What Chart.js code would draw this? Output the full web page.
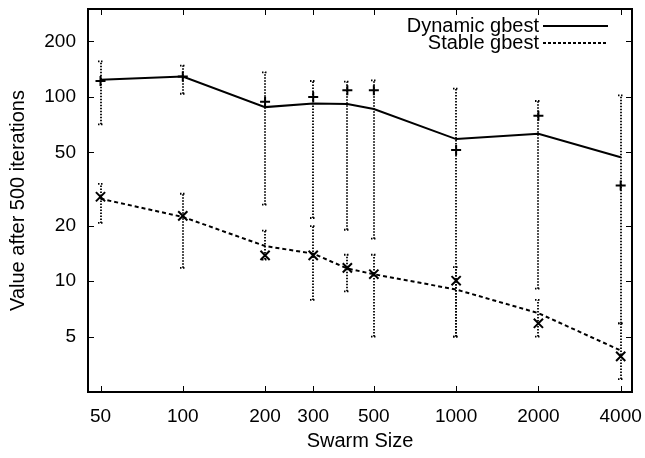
<!DOCTYPE html>
<html>
<head>
<meta charset="utf-8">
<script src="https://cdn.jsdelivr.net/npm/chart.js@4.4.1/dist/chart.umd.min.js"></script>
<style>
  html, body { margin: 0; padding: 0; background: #fff; }
  #wrap { width: 645px; height: 458px; }
</style>
</head>
<body>
<div id="wrap"><canvas id="swarmChart" width="645" height="458"></canvas></div>
<script>
// swarm sizes and tick labels
const swarmSizes = [50, 100, 200, 300, 400, 500, 1000, 2000, 4000];
const xTickValues = [50, 100, 200, 300, 500, 1000, 2000, 4000];
const yTickValues = [5, 10, 20, 50, 100, 200];

// Dynamic gbest: line = mean, "+" = median, bars = min..max
const dynamicMean = [124, 129, 88, 92, 91.5, 86, 59, 63, 47];
const dynamicMedian = [122, 129, 94, 100, 108.5, 108.5, 51.5, 79, 33];
const dynamicLow = [71, 104, 26, 22, 19, 17, 5, 9.1, 5.9];
const dynamicHigh = [156, 148, 136, 122, 121, 123, 111, 95, 102];

// Stable gbest
const stableMean = [28, 22.3, 15.5, 14.1, 11.7, 10.9, 9.0, 6.7, 4.2];
const stableMedian = [28.7, 22.6, 13.8, 13.8, 11.8, 10.9, 10.05, 5.9, 3.9];
const stableLow = [20.7, 11.8, 13.1, 7.9, 8.8, 5.0, 5.0, 5.0, 2.94];
const stableHigh = [33.7, 29.8, 18.8, 19.9, 13.9, 13.9, 11.9, 7.9, 5.9];

const FONT = '"Liberation Sans", Arial, Helvetica, sans-serif';

const toPoints = (ys) => swarmSizes.map((x, i) => ({ x: x, y: ys[i] }));

// dotted min/max bars with tiny caps
const errorBars = {
  id: 'errorBars',
  beforeDatasetsDraw(chart) {
    const ctx = chart.ctx;
    const xs = chart.scales.x, ys = chart.scales.y;
    const sets = [[dynamicLow, dynamicHigh], [stableLow, stableHigh]];
    ctx.save();
    ctx.strokeStyle = '#000';
    ctx.lineWidth = 1.8;
    ctx.setLineDash([1.5, 1.5]);
    sets.forEach(([lo, hi]) => {
      swarmSizes.forEach((s, i) => {
        const px = Math.round(xs.getPixelForValue(s));
        const y0 = ys.getPixelForValue(lo[i]);
        const y1 = ys.getPixelForValue(hi[i]);
        ctx.beginPath();
        ctx.moveTo(px, y0);
        ctx.lineTo(px, y1);
        ctx.stroke();
        [y0, y1].forEach(py => {
          ctx.beginPath();
          ctx.moveTo(px - 3, py);
          ctx.lineTo(px + 3, py);
          ctx.stroke();
        });
      });
    });
    ctx.restore();
  }
};

// gnuplot style frame, inward ticks on all sides, and legend
const frameAndLegend = {
  id: 'frameAndLegend',
  afterDatasetsDraw(chart) {
    const ctx = chart.ctx;
    const area = chart.chartArea;
    const xs = chart.scales.x, ys = chart.scales.y;
    const L = Math.round(area.left), R = Math.round(area.right);
    const T = Math.round(area.top), B = Math.round(area.bottom);
    ctx.save();
    ctx.fillStyle = '#000';
    // frame
    ctx.fillRect(L - 1, T - 1, R - L + 2, 2);
    ctx.fillRect(L - 1, B - 1, R - L + 2, 2);
    ctx.fillRect(L - 1, T - 1, 2, B - T + 2);
    ctx.fillRect(R - 1, T - 1, 2, B - T + 2);
    // ticks
    const len = 6;
    xTickValues.forEach(v => {
      const px = Math.round(xs.getPixelForValue(v));
      ctx.fillRect(px, B - len, 1, len);
      ctx.fillRect(px, T, 1, len);
    });
    yTickValues.forEach(v => {
      const py = Math.round(ys.getPixelForValue(v));
      ctx.fillRect(L, py, len, 1);
      ctx.fillRect(R - len, py, len, 1);
    });

    // legend
    ctx.font = '20px ' + FONT;
    ctx.textAlign = 'right';
    ctx.textBaseline = 'middle';
    ctx.strokeStyle = '#000';
    const rows = [
      { label: 'Dynamic gbest', dash: [], dy: 17 },
      { label: 'Stable gbest', dash: [3, 2], dy: 34 }
    ];
    rows.forEach(r => {
      const ry = T + r.dy;
      ctx.fillText(r.label, L + 451, ry);
      ctx.beginPath();
      ctx.setLineDash(r.dash);
      ctx.lineWidth = 2;
      ctx.moveTo(L + 455, ry);
      ctx.lineTo(L + 520, ry);
      ctx.stroke();
    });
    ctx.restore();
  }
};

new Chart(document.getElementById('swarmChart').getContext('2d'), {
  type: 'scatter',
  data: {
    datasets: [
      {
        label: 'Dynamic gbest',
        data: toPoints(dynamicMean),
        showLine: true,
        borderColor: '#000',
        borderWidth: 2,
        pointRadius: 0,
        tension: 0
      },
      {
        label: 'Dynamic gbest median',
        data: toPoints(dynamicMedian),
        showLine: false,
        pointStyle: 'cross',
        pointRadius: 5,
        borderColor: '#000',
        backgroundColor: '#000',
        pointBorderWidth: 2
      },
      {
        label: 'Stable gbest',
        data: toPoints(stableMean),
        showLine: true,
        borderColor: '#000',
        borderWidth: 2,
        borderDash: [4, 3],
        pointRadius: 0,
        tension: 0
      },
      {
        label: 'Stable gbest median',
        data: toPoints(stableMedian),
        showLine: false,
        pointStyle: 'crossRot',
        pointRadius: 6.5,
        borderColor: '#000',
        backgroundColor: '#000',
        pointBorderWidth: 2
      }
    ]
  },
  options: {
    responsive: false,
    animation: false,
    layout: { padding: { top: 9, right: 13, left: 0, bottom: 0 } },
    plugins: {
      legend: { display: false },
      tooltip: { enabled: false }
    },
    scales: {
      x: {
        type: 'logarithmic',
        min: 45,
        max: 4400,
        afterBuildTicks: (s) => { s.ticks = xTickValues.map(v => ({ value: v })); },
        afterFit: (s) => { s.height = 66; s.paddingLeft = 0; s.paddingRight = 0; },
        grid: { display: false, drawTicks: false },
        border: { display: false },
        ticks: {
          color: '#000',
          font: { family: FONT, size: 19 },
          padding: 13,
          maxRotation: 0,
          autoSkip: false,
          callback: (v) => String(v)
        },
        title: {
          display: true,
          text: 'Swarm Size',
          color: '#000',
          font: { family: FONT, size: 20 },
          padding: { top: 2, bottom: 5 }
        }
      },
      y: {
        type: 'logarithmic',
        min: 2.5,
        max: 300,
        afterBuildTicks: (s) => { s.ticks = yTickValues.map(v => ({ value: v })); },
        afterFit: (s) => { s.width = 88; s.paddingTop = 0; s.paddingBottom = 0; },
        grid: { display: false, drawTicks: false },
        border: { display: false },
        ticks: {
          color: '#000',
          font: { family: FONT, size: 19 },
          padding: 12,
          autoSkip: false,
          callback: (v) => String(v)
        },
        title: {
          display: true,
          text: 'Value after 500 iterations',
          color: '#000',
          font: { family: FONT, size: 20 },
          padding: { top: 6, bottom: 0 }
        }
      }
    }
  },
  plugins: [errorBars, frameAndLegend]
});
</script>
</body>
</html>
